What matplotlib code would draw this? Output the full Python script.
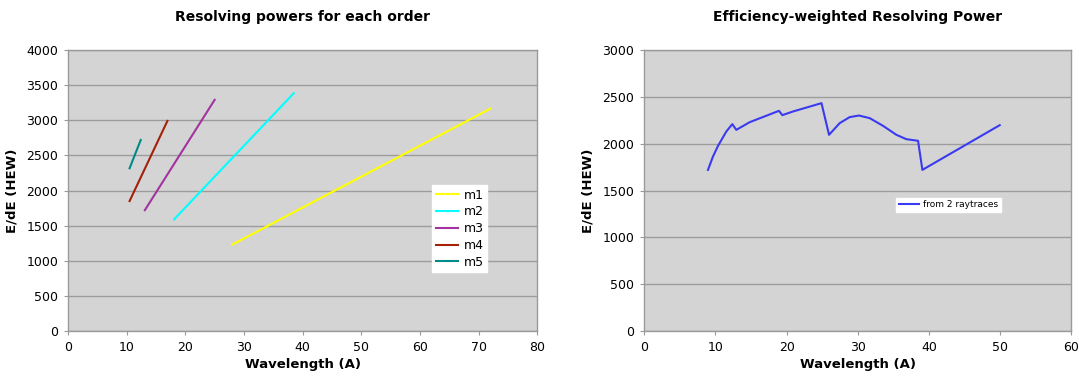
import matplotlib.pyplot as plt

# resolving power per diffraction order (wavelength in A, E/dE HEW)
m1_wl = [28.0, 72.0]
m1_rp = [1230, 3165]
m2_wl = [18.1, 38.5]
m2_rp = [1590, 3385]
m3_wl = [13.1, 25.0]
m3_rp = [1720, 3290]
m4_wl = [10.5, 16.95]
m4_rp = [1850, 2990]
m5_wl = [10.5, 12.4]
m5_rp = [2316, 2719]

# efficiency-weighted combination
eff_wl = [8.96, 9.66, 10.37, 11.54, 12.38, 12.94, 14.82, 18.93, 19.4, 20.9, 24.9,
          25.96, 27.46, 28.86, 30.17, 31.67, 33.54, 35.42, 36.8, 38.46, 39.07, 49.93]
eff_rp = [1720, 1862, 1976, 2130, 2208, 2147, 2229, 2350, 2304, 2343, 2432,
          2094, 2219, 2283, 2300, 2272, 2190, 2094, 2048, 2030, 1720, 2197]

orders = [("m1", m1_wl, m1_rp, "#FFFF00"),
          ("m2", m2_wl, m2_rp, "#00FFFF"),
          ("m3", m3_wl, m3_rp, "#A2339F"),
          ("m4", m4_wl, m4_rp, "#A3200A"),
          ("m5", m5_wl, m5_rp, "#00898A")]

bg = "#D4D4D4"
gridc = "#9C9C9C"

fig = plt.figure(figsize=(10.79, 3.81), dpi=100)
ax1 = fig.add_axes([0.063, 0.131, 0.435, 0.738])
ax2 = fig.add_axes([0.597, 0.131, 0.396, 0.738])


def style(ax):
    ax.set_facecolor(bg)
    ax.grid(axis="y", color=gridc, linewidth=1.0)
    ax.set_axisbelow(True)
    for s in ax.spines.values():
        s.set_color("#9A9A9A")
        s.set_linewidth(1.0)
    ax.tick_params(direction="out", length=3, color="#9A9A9A", labelsize=9, pad=4)


for name, wl, rp, c in orders:
    ax1.plot(wl, rp, color=c, linewidth=1.5, label=name)
style(ax1)
ax1.set_xlim(0, 80)
ax1.set_ylim(0, 4000)
ax1.set_xticks(range(0, 81, 10))
ax1.set_yticks(range(0, 4001, 500))
ax1.set_title("Resolving powers for each order", fontsize=10, fontweight="bold", pad=21)
ax1.set_xlabel("Wavelength (A)", fontsize=9.5, fontweight="bold", labelpad=3)
ax1.set_ylabel("E/dE (HEW)", fontsize=9.5, fontweight="bold", labelpad=6)
leg1 = ax1.legend(loc="upper left", bbox_to_anchor=(0.776, 0.52), fontsize=9,
                  frameon=True, fancybox=False, framealpha=1, handlelength=1.8,
                  handletextpad=0.4, labelspacing=0.3, borderpad=0.3, borderaxespad=0)
leg1.get_frame().set_facecolor("white")
leg1.get_frame().set_edgecolor("white")

ax2.plot(eff_wl, eff_rp, color="#3A3AF0", linewidth=1.5, label="from 2 raytraces")
style(ax2)
ax2.set_xlim(0, 60)
ax2.set_ylim(0, 3000)
ax2.set_xticks(range(0, 61, 10))
ax2.set_yticks(range(0, 3001, 500))
ax2.set_title("Efficiency-weighted Resolving Power", fontsize=10, fontweight="bold", pad=21)
ax2.set_xlabel("Wavelength (A)", fontsize=9.5, fontweight="bold", labelpad=3)
ax2.set_ylabel("E/dE (HEW)", fontsize=9.5, fontweight="bold", labelpad=6)
leg2 = ax2.legend(loc="upper left", bbox_to_anchor=(0.59, 0.475), fontsize=6.5,
                  frameon=True, fancybox=False, framealpha=1, handlelength=2.2,
                  handletextpad=0.5, borderpad=0.3, borderaxespad=0)
leg2.get_frame().set_facecolor("white")
leg2.get_frame().set_edgecolor("white")

fig.savefig("out.png", dpi=100)
